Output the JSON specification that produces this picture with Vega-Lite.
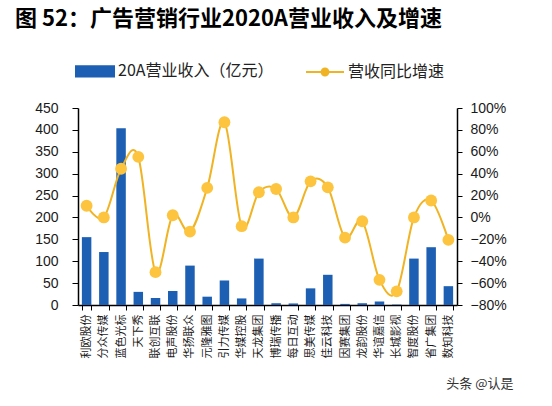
{
  "$schema": "https://vega.github.io/schema/vega-lite/v6.json",
  "autosize": {"type": "none"},
  "width": 379,
  "height": 197,
  "padding": {"left": 78, "top": 108, "right": 95, "bottom": 101},
  "background": "#ffffff",
  "title": {
    "text": "图 52：广告营销行业2020A营业收入及增速",
    "anchor": "start",
    "frame": "group",
    "dx": -63,
    "offset": 20,
    "font": "Noto Sans CJK SC",
    "fontSize": 22,
    "fontWeight": "bold",
    "color": "#000000"
  },
  "config": {
    "view": {"stroke": null},
    "axis": {"grid": false, "domainColor": "#000000", "tickColor": "#000000", "labelColor": "#1a1a1a", "labelFont": "Liberation Sans"}
  },
  "data": {
    "values": [
      {"company": "利欧股份", "revenue": 155, "growth": 0.107},
      {"company": "分众传媒", "revenue": 121, "growth": 0.0},
      {"company": "蓝色光标", "revenue": 404, "growth": 0.445},
      {"company": "天下秀", "revenue": 30, "growth": 0.553},
      {"company": "联创互联", "revenue": 16, "growth": -0.5},
      {"company": "电声股份", "revenue": 32, "growth": 0.02},
      {"company": "华扬联众", "revenue": 90, "growth": -0.13},
      {"company": "元隆雅图", "revenue": 19, "growth": 0.27},
      {"company": "引力传媒", "revenue": 56, "growth": 0.87},
      {"company": "华媒控股", "revenue": 15, "growth": -0.08},
      {"company": "天龙集团", "revenue": 106, "growth": 0.23},
      {"company": "博瑞传播", "revenue": 4, "growth": 0.26},
      {"company": "每日互动", "revenue": 3.5, "growth": 0.0},
      {"company": "思美传媒", "revenue": 38, "growth": 0.33},
      {"company": "佳云科技", "revenue": 69, "growth": 0.275},
      {"company": "因赛集团", "revenue": 2.5, "growth": -0.185},
      {"company": "龙韵股份", "revenue": 4, "growth": -0.035},
      {"company": "华谊嘉信", "revenue": 8, "growth": -0.57},
      {"company": "长城影视", "revenue": 1, "growth": -0.675},
      {"company": "智度股份", "revenue": 106, "growth": 0.0},
      {"company": "省广集团", "revenue": 132, "growth": 0.155},
      {"company": "数知科技", "revenue": 43, "growth": -0.205}
    ]
  },
  "encoding": {
    "x": {
      "field": "company",
      "type": "nominal",
      "sort": null,
      "scale": {"paddingInner": 0.45, "paddingOuter": 0.225},
      "axis": {
        "title": "头条 @认是",
        "titleFont": "Noto Sans CJK SC",
        "titleFontSize": 13,
        "titleFontWeight": "normal",
        "titleColor": "#333333",
        "titleAnchor": "end",
        "titleAlign": "right",
        "titleBaseline": "alphabetic",
        "titleX": 435,
        "titleY": 82,
        "labelAngle": -90,
        "labelFont": "Noto Sans CJK SC",
        "labelFontSize": 11,
        "labelPadding": 4,
        "tickBand": "extent",
        "tickSize": 5,
        "domainWidth": 1.5
      }
    }
  },
  "layer": [
    {
      "mark": {"type": "bar"},
      "encoding": {
        "y": {
          "field": "revenue",
          "type": "quantitative",
          "scale": {"domain": [0, 450]},
          "axis": {
            "title": null,
            "values": [0, 50, 100, 150, 200, 250, 300, 350, 400, 450],
            "labelFontSize": 14,
            "labelPadding": 14,
            "tickSize": 6,
            "domainWidth": 1.5
          }
        },
        "color": {
          "datum": "20A营业收入（亿元）",
          "type": "nominal",
          "scale": {"domain": ["20A营业收入（亿元）", "营收同比增速"], "range": ["#1C5FB3", "#F0B323"]},
          "legend": {
            "title": null,
            "orient": "none",
            "legendX": -3,
            "legendY": -57,
            "direction": "horizontal",
            "labelFont": "Noto Sans CJK SC",
            "labelFontSize": 16,
            "labelColor": "#222222",
            "symbolSize": 1444,
            "columnPadding": 28,
            "labelOffset": 3,
            "encode": {
              "symbols": {
                "update": {
                  "shape": {"signal": "datum.value === '营收同比增速' ? 'M-1,0H1M-0.18,0A0.18,0.18,0,1,1,0.18,0A0.18,0.18,0,1,1,-0.18,0Z' : 'M-1,-0.27H1V0.27H-1Z'"},
                  "fill": {"signal": "datum.value === '营收同比增速' ? '#F5BC2E' : '#1C5FB3'"},
                  "stroke": {"signal": "datum.value === '营收同比增速' ? '#F0B323' : 'transparent'"},
                  "strokeWidth": {"value": 2},
                  "opacity": {"value": 1},
                  "fillOpacity": {"value": 1}
                }
              }
            }
          }
        }
      }
    },
    {
      "layer": [
        {
          "mark": {"type": "line", "interpolate": "cardinal", "strokeWidth": 2},
          "encoding": {
            "y": {"field": "growth", "type": "quantitative"},
            "color": {"datum": "营收同比增速", "type": "nominal"}
          }
        },
        {
          "mark": {"type": "point", "filled": true, "size": 140, "opacity": 1},
          "encoding": {
            "y": {"field": "growth", "type": "quantitative"},
            "color": {"value": "#FDC43F"}
          }
        }
      ],
      "encoding": {
        "y": {
          "field": "growth",
          "type": "quantitative",
          "scale": {"domain": [-0.8, 1.0]},
          "axis": {
            "title": null,
            "orient": "right",
            "format": ".0%",
            "values": [-0.8, -0.6, -0.4, -0.2, 0, 0.2, 0.4, 0.6, 0.8, 1.0],
            "labelFontSize": 14,
            "labelPadding": 8,
            "tickSize": 5,
            "domainWidth": 1.5
          }
        }
      }
    }
  ],
  "resolve": {"scale": {"y": "independent"}}
}
